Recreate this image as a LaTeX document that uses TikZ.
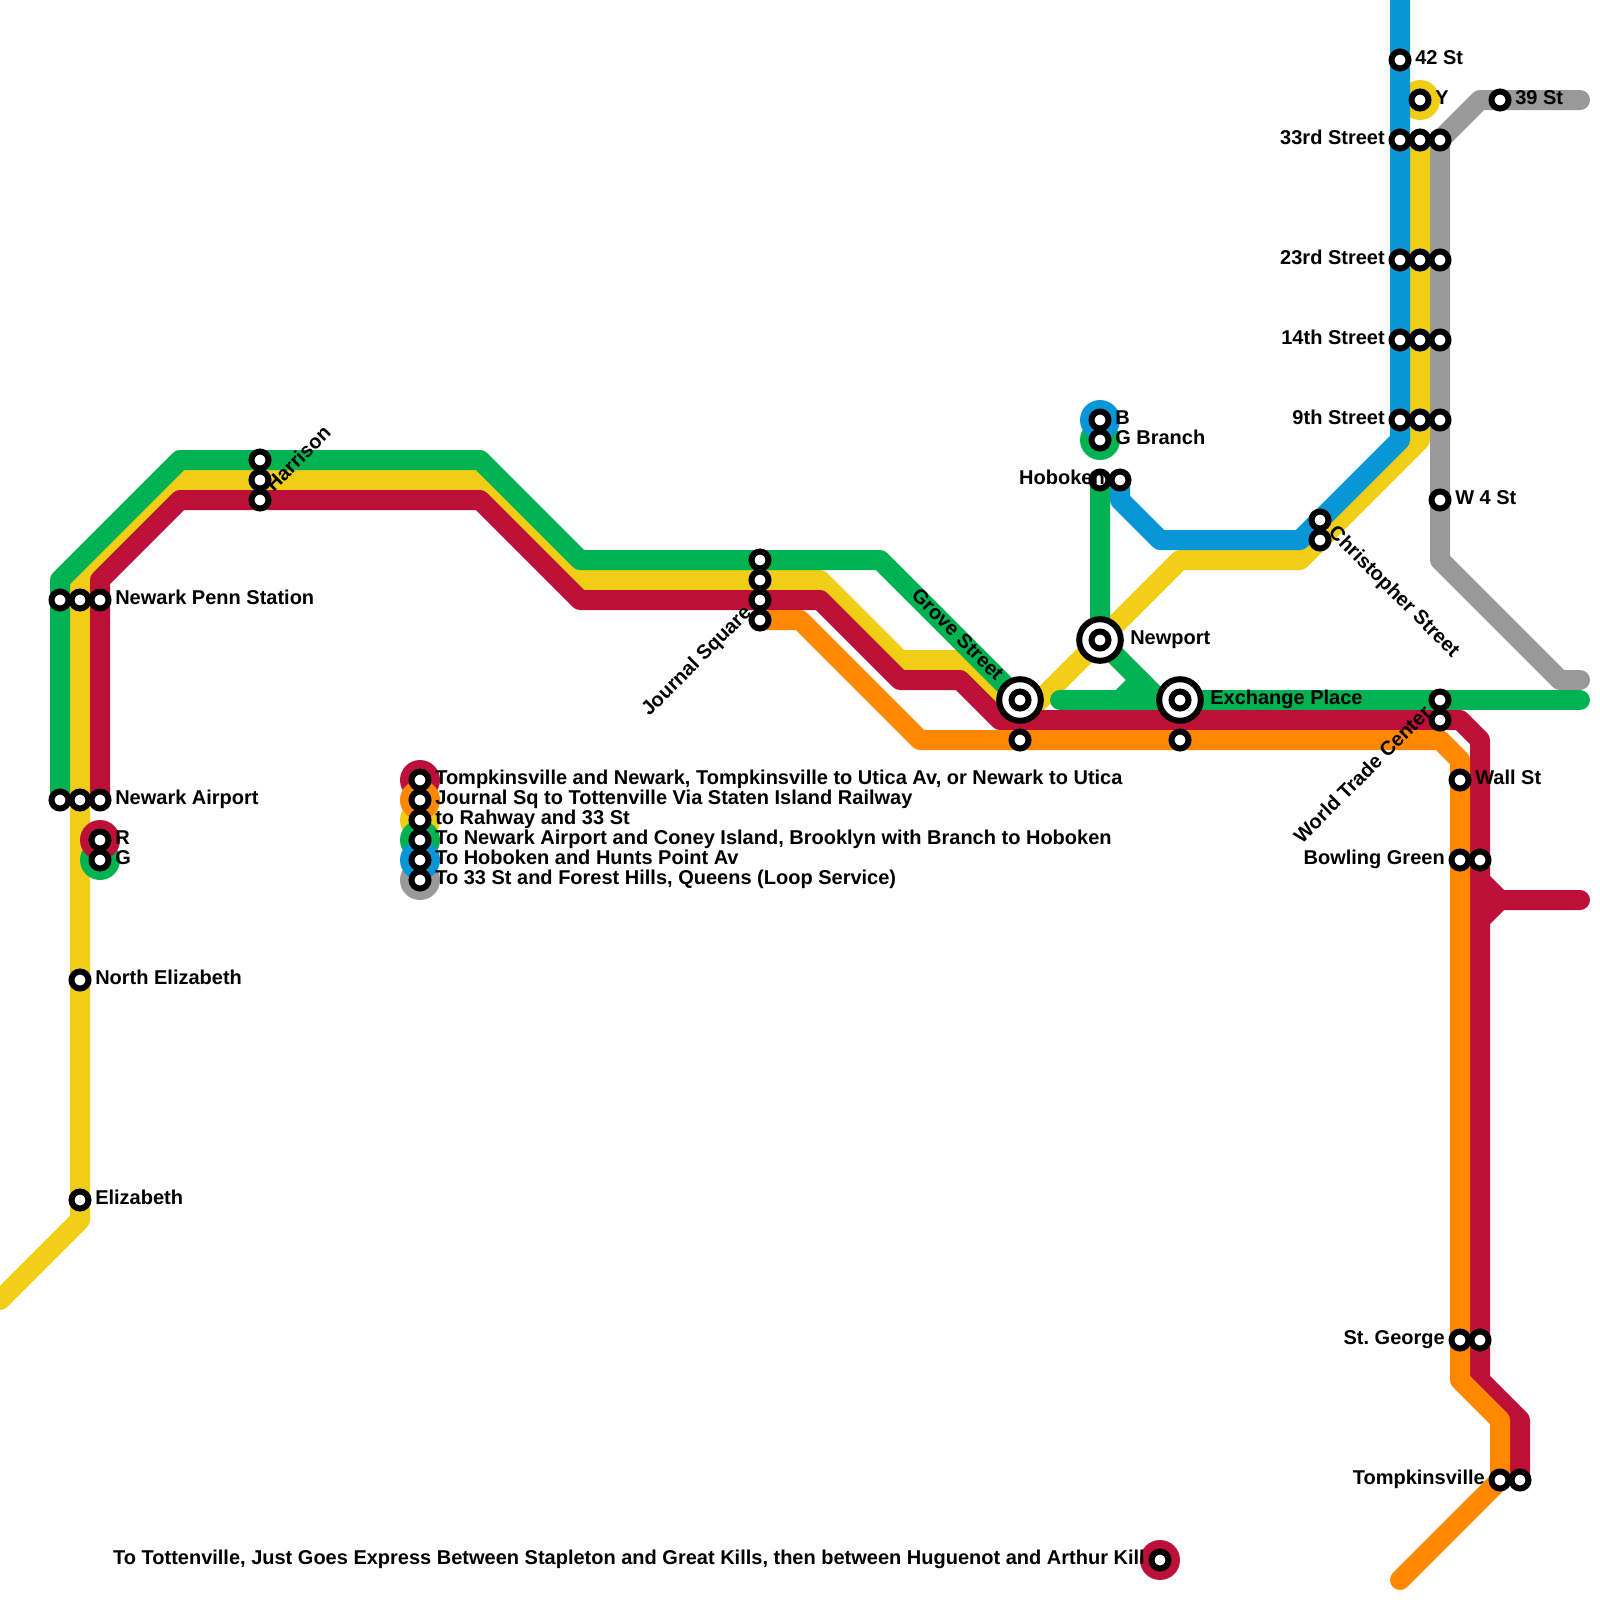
\documentclass[tikz,border=0pt]{standalone}
\usepackage{fontspec}
\setmainfont{Liberation Sans}
\usetikzlibrary{backgrounds}
\definecolor{linered}{HTML}{BD1038}
\definecolor{lineorange}{HTML}{FF8800}
\definecolor{lineyellow}{HTML}{F0CE15}
\definecolor{linegreen}{HTML}{00B251}
\definecolor{lineblue}{HTML}{0896D7}
\definecolor{linegray}{HTML}{999999}
\tikzset{
  route/.style={line width=0.5cm, line cap=round, line join=round},
  stn/.style={circle, draw=black, fill=white, line width=0.15cm, minimum size=0.425cm, inner sep=0pt},
  hub/.style={circle, draw=black, fill=white, line width=0.15cm, minimum size=1.04cm, inner sep=0pt},
  term/.style={circle, minimum size=1cm, inner sep=0pt},
  txt/.style={font=\fontsize{14.226}{14.226}\selectfont\bfseries, text=black, inner ysep=0pt, text height=0.22cm, text depth=0pt},
  lblr/.style={txt, anchor=west, inner xsep=0.375cm},
  lbll/.style={txt, anchor=east, inner xsep=0.375cm},
  hubr/.style={txt, anchor=west, inner xsep=0.75cm},
  hubl/.style={txt, anchor=east, inner xsep=0.75cm}
}
\begin{document}
\begin{tikzpicture}[x=0.5cm, y=-0.5cm]
  \useasboundingbox (0,0) rectangle (80,80);

  % Free line ends
  \coordinate (yellowend) at (0,65);
  \coordinate (blueend) at (70,0);
  \coordinate (grayend) at (79,34);
  \coordinate (grayend2) at (79,5);
  \coordinate (greenend) at (53,35);
  \coordinate (greenend2) at (79,35);
  \coordinate (redend) at (79,45);
  \coordinate (orangeend) at (70,79);

  % Interchange rings
  \node[hub] (groveh) at (51,35) {};
  \node[hub] (newporth) at (55,32) {};
  \node[hub] (exchangeh) at (59,35) {};

  % Stations, west side
  \node[stn] (penn1) at (3,30) {};
  \node[stn] (penn2) at (4,30) {};
  \node[stn] (penn3) at (5,30) {};
  \node[stn] (air1) at (3,40) {};
  \node[stn] (air2) at (4,40) {};
  \node[stn] (air3) at (5,40) {};
  \node[stn] (nelz) at (4,49) {};
  \node[stn] (elz) at (4,60) {};
  \node[stn] (har1) at (13,23) {};
  \node[stn] (har2) at (13,24) {};
  \node[stn] (har3) at (13,25) {};
  \node[stn] (jsq1) at (38,28) {};
  \node[stn] (jsq2) at (38,29) {};
  \node[stn] (jsq3) at (38,30) {};
  \node[stn] (jsq4) at (38,31) {};

  % Stations, middle
  \node[stn] (grove) at (51,35) {};
  \node[stn] (grove2) at (51,37) {};
  \node[stn] (newport) at (55,32) {};
  \node[stn] (exchange) at (59,35) {};
  \node[stn] (exchange2) at (59,37) {};
  \node[stn] (hob1) at (55,24) {};
  \node[stn] (hob2) at (56,24) {};
  \node[stn] (chr1) at (66,26) {};
  \node[stn] (chr2) at (66,27) {};

  % Stations, Manhattan side
  \node[stn] (st42) at (70,3) {};
  \node[stn] (st33a) at (70,7) {};
  \node[stn] (st33b) at (71,7) {};
  \node[stn] (st33c) at (72,7) {};
  \node[stn] (st23a) at (70,13) {};
  \node[stn] (st23b) at (71,13) {};
  \node[stn] (st23c) at (72,13) {};
  \node[stn] (st14a) at (70,17) {};
  \node[stn] (st14b) at (71,17) {};
  \node[stn] (st14c) at (72,17) {};
  \node[stn] (st9a) at (70,21) {};
  \node[stn] (st9b) at (71,21) {};
  \node[stn] (st9c) at (72,21) {};
  \node[stn] (w4) at (72,25) {};
  \node[stn] (st39) at (75,5) {};
  \node[stn] (wtc1) at (72,35) {};
  \node[stn] (wtc2) at (72,36) {};
  \node[stn] (wall) at (73,39) {};
  \node[stn] (bowl1) at (73,43) {};
  \node[stn] (bowl2) at (74,43) {};
  \node[stn] (geo1) at (73,67) {};
  \node[stn] (geo2) at (74,67) {};
  \node[stn] (tomp1) at (75,74) {};
  \node[stn] (tomp2) at (76,74) {};

  % Terminal markers
  \node[stn] (ydot) at (71,5) {};
  \node[stn] (bdot) at (55,21) {};
  \node[stn] (gbdot) at (55,22) {};
  \node[stn] (rdot) at (5,42) {};
  \node[stn] (gdot) at (5,43) {};
  \node[stn] (killdot) at (58,78) {};

  % Legend markers
  \node[stn] (key1) at (21,39) {};
  \node[stn] (key2) at (21,40) {};
  \node[stn] (key3) at (21,41) {};
  \node[stn] (key4) at (21,42) {};
  \node[stn] (key5) at (21,43) {};
  \node[stn] (key6) at (21,44) {};

  \begin{pgfonlayer}{background}
    % Gray line
    \node[term, fill=linegray] (key6b) at (key6) {};
    \draw[route, linegray] (grayend) -- (78,34) -- (72,28) -- (w4.center) -- (st9c.center) -- (st14c.center) -- (st23c.center) -- (st33c.center) -- (74,5) -- (st39.center) -- (grayend2);

    % Yellow line
    \node[term, fill=lineyellow] (key3b) at (key3) {};
    \node[term, fill=lineyellow] (yterm) at (ydot) {};
    \draw[route, lineyellow] (yellowend) -- (4,61) -- (elz.center) -- (nelz.center) -- (air2.center) -- (penn2.center) -- (4,29) -- (9,24) -- (har2.center) -- (24,24) -- (29,29) -- (jsq2.center) -- (41,29) -- (45,33) -- (48,33) -- (51,36) -- (newport.center) -- (59,28) -- (65,28) -- (chr2.center) -- (71,22) -- (st9b.center) -- (st14b.center) -- (st23b.center) -- (st33b.center);

    % Green lines
    \node[term, fill=linegreen] (key4b) at (key4) {};
    \node[term, fill=linegreen] (gterm) at (gdot) {};
    \node[term, fill=linegreen] (gbterm) at (gbdot) {};
    \draw[route, linegreen] (air1.center) -- (penn1.center) -- (3,29) -- (9,23) -- (har1.center) -- (24,23) -- (29,28) -- (jsq1.center) -- (44,28) -- (grove.center);
    \draw[route, linegreen] (greenend) -- (exchange.center) -- (wtc1.center) -- (greenend2);
    \draw[route, linegreen] (hob1.center) -- (newport.center) -- (58,35);
    \draw[route, linegreen] (56,35) -- (57,34);

    % Blue line
    \node[term, fill=lineblue] (key5b) at (key5) {};
    \node[term, fill=lineblue] (bterm) at (bdot) {};
    \draw[route, lineblue] (blueend) -- (st42.center) -- (st33a.center) -- (st23a.center) -- (st14a.center) -- (st9a.center) -- (70,22) -- (chr1.center) -- (65,27) -- (58,27) -- (56,25) -- (hob2.center);

    % Red lines
    \node[term, fill=linered] (key1b) at (key1) {};
    \node[term, fill=linered] (rterm) at (rdot) {};
    \node[term, fill=linered] (killterm) at (killdot) {};
    \draw[route, linered] (air3.center) -- (penn3.center) -- (5,29) -- (9,25) -- (har3.center) -- (24,25) -- (29,30) -- (jsq3.center) -- (41,30) -- (45,34) -- (48,34) -- (50,36) -- (wtc2.center) -- (73,36) -- (74,37) -- (bowl2.center) -- (geo2.center) -- (74,69) -- (76,71) -- (tomp2.center);
    \draw[route, linered] (74,44) -- (75,45) -- (redend);
    \draw[route, linered] (74,46) -- (75,45);

    % Orange line
    \node[term, fill=lineorange] (key2b) at (key2) {};
    \draw[route, lineorange] (jsq4.center) -- (40,31) -- (46,37) -- (grove2.center) -- (exchange2.center) -- (72,37) -- (73,38) -- (wall.center) -- (bowl1.center) -- (geo1.center) -- (73,69) -- (75,71) -- (tomp1.center) -- (orangeend);
  \end{pgfonlayer}

  % Station names
  \node[lblr] (tpenn) at (penn3) {Newark Penn Station};
  \node[lblr] (tair) at (air3) {Newark Airport};
  \node[lblr] (tr) at (rdot) {R};
  \node[lblr] (tg) at (gdot) {G};
  \node[lblr] (tnelz) at (nelz) {North Elizabeth};
  \node[lblr] (telz) at (elz) {Elizabeth};
  \node[lblr, rotate=45] (thar) at (har3) {Harrison};
  \node[lbll, rotate=45] (tjsq) at (jsq3) {Journal Square};
  \node[hubl, rotate=-45] (tgrove) at (grove) {Grove Street};
  \node[hubr] (tnewport) at (newport) {Newport};
  \node[hubr] (texchange) at (exchange) {Exchange Place};
  \node[lblr] (tb) at (bdot) {B};
  \node[lblr] (tgb) at (gbdot) {G Branch};
  \node[lbll] (thob) at (hob2) {Hoboken};
  \node[lblr, rotate=-45] (tchr) at (chr1) {Christopher Street};
  \node[lblr] (t42) at (st42) {42 St};
  \node[lblr] (ty) at (ydot) {Y};
  \node[lblr] (t39) at (st39) {39 St};
  \node[lbll] (t33) at (st33a) {33rd Street};
  \node[lbll] (t23) at (st23a) {23rd Street};
  \node[lbll] (t14) at (st14a) {14th Street};
  \node[lbll] (t9) at (st9a) {9th Street};
  \node[lblr] (tw4) at (w4) {W 4 St};
  \node[lbll, rotate=45] (twtc) at (wtc1) {World Trade Center};
  \node[lblr] (twall) at (wall) {Wall St};
  \node[lbll] (tbowl) at (bowl1) {Bowling Green};
  \node[lbll] (tgeo) at (geo1) {St.\ George};
  \node[lbll] (ttomp) at (tomp1) {Tompkinsville};
  \node[lbll] (tkill) at (killdot) {To Tottenville, Just Goes Express Between Stapleton and Great Kills, then between Huguenot and Arthur Kill};

  % Legend texts
  \node[lblr] (tkey1) at (key1) {Tompkinsville and Newark, Tompkinsville to Utica Av, or Newark to Utica};
  \node[lblr] (tkey2) at (key2) {Journal Sq to Tottenville Via Staten Island Railway};
  \node[lblr] (tkey3) at (key3) {to Rahway and 33 St};
  \node[lblr] (tkey4) at (key4) {To Newark Airport and Coney Island, Brooklyn with Branch to Hoboken};
  \node[lblr] (tkey5) at (key5) {To Hoboken and Hunts Point Av};
  \node[lblr] (tkey6) at (key6) {To 33 St and Forest Hills, Queens (Loop Service)};
\end{tikzpicture}
\end{document}
